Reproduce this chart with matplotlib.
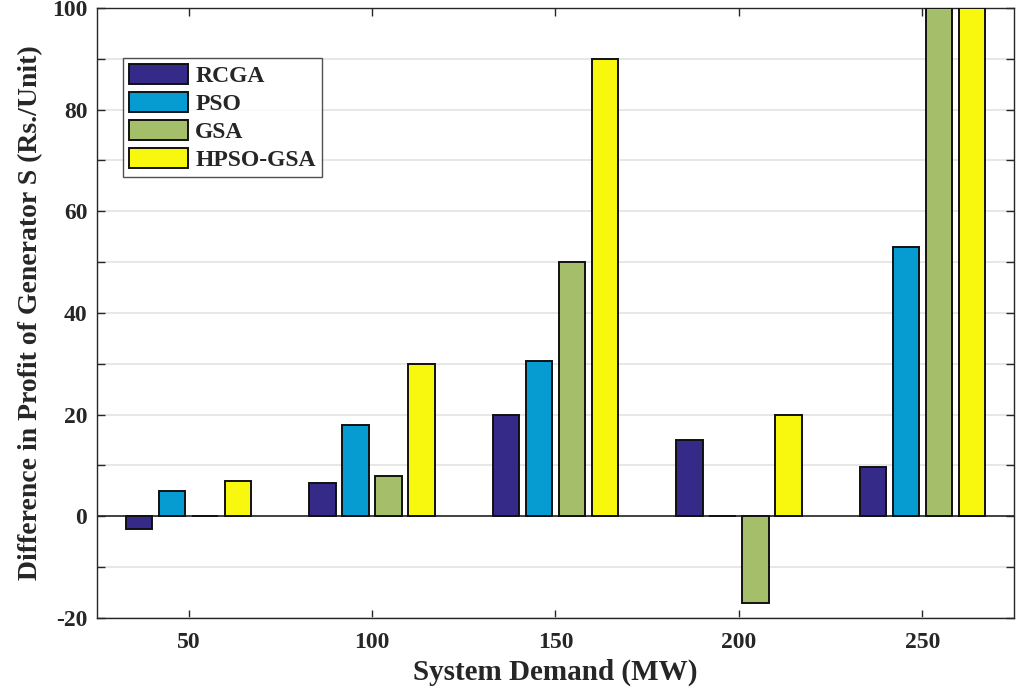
import numpy as np
import matplotlib
matplotlib.use("Agg")
import matplotlib.pyplot as plt
from matplotlib.ticker import MultipleLocator

demand = [50, 100, 150, 200, 250]
methods = ["RCGA", "PSO", "GSA", "HPSO-GSA"]
rcga = [-2.6, 6.6, 20, 15, 9.7]
pso = [5, 18, 30.6, 0, 53]
gsa = [0, 8, 50, -17, 100]
hpso_gsa = [7, 30, 90, 20, 100]
series = [rcga, pso, gsa, hpso_gsa]
colors = ["#352a87", "#069bd1", "#a5be6a", "#f8f80e"]

plt.rcParams["font.family"] = ["Liberation Serif", "DejaVu Serif"]
plt.rcParams["font.weight"] = "bold"
plt.rcParams["axes.unicode_minus"] = False

fig = plt.figure(figsize=(10.16, 6.95), dpi=100)
ax = fig.add_axes([0.0955, 0.111, 0.9025, 0.8775])

offsets = [-13.5, -4.5, 4.5, 13.5]
width = 7.2
x = np.array(demand, dtype=float)
for vals, off, col, name in zip(series, offsets, colors, methods):
    ax.bar(x + off, vals, width=width, color=col, edgecolor="#111111",
           linewidth=1.4, label=name, zorder=3)

ax.axhline(0, color="#262626", linewidth=1.2, zorder=2)

ax.set_xlim(25, 275)
ax.set_ylim(-20, 100)
ax.set_xticks(demand)
ax.yaxis.set_major_locator(MultipleLocator(20))
ax.yaxis.set_minor_locator(MultipleLocator(10))
ax.grid(True, which="both", axis="y", color="#e3e3e3", linewidth=1.2, zorder=0)
ax.set_axisbelow(True)

ax.tick_params(axis="both", which="both", direction="in", top=True, right=True,
               color="#262626", labelsize=17)
ax.tick_params(axis="both", which="major", length=6, width=1.0)
ax.tick_params(axis="both", which="minor", length=6, width=1.0)
ax.tick_params(axis="x", which="major", pad=10)
ax.tick_params(axis="y", which="major", pad=7)
for lab in ax.get_xticklabels() + ax.get_yticklabels():
    lab.set_fontweight("bold")
    lab.set_color("#262626")
for s in ax.spines.values():
    s.set_color("#262626")
    s.set_linewidth(1.0)

ax.set_xlabel("System Demand (MW)", fontsize=21, fontweight="bold",
              color="#262626", labelpad=4)
ax.set_ylabel("Difference in Profit of Generator S (Rs./Unit)", fontsize=20,
              fontweight="bold", color="#262626", labelpad=6)

leg = ax.legend(loc="upper left", bbox_to_anchor=(0.0285, 0.918), fontsize=17,
                frameon=True, fancybox=False, edgecolor="#262626",
                handlelength=2.5, handleheight=0.95, handletextpad=0.3,
                labelspacing=0.2, borderpad=0.25, borderaxespad=0)
leg.get_frame().set_linewidth(1.0)
for t in leg.get_texts():
    t.set_fontweight("bold")
    t.set_color("#262626")

fig.savefig("out.png", dpi=100)
